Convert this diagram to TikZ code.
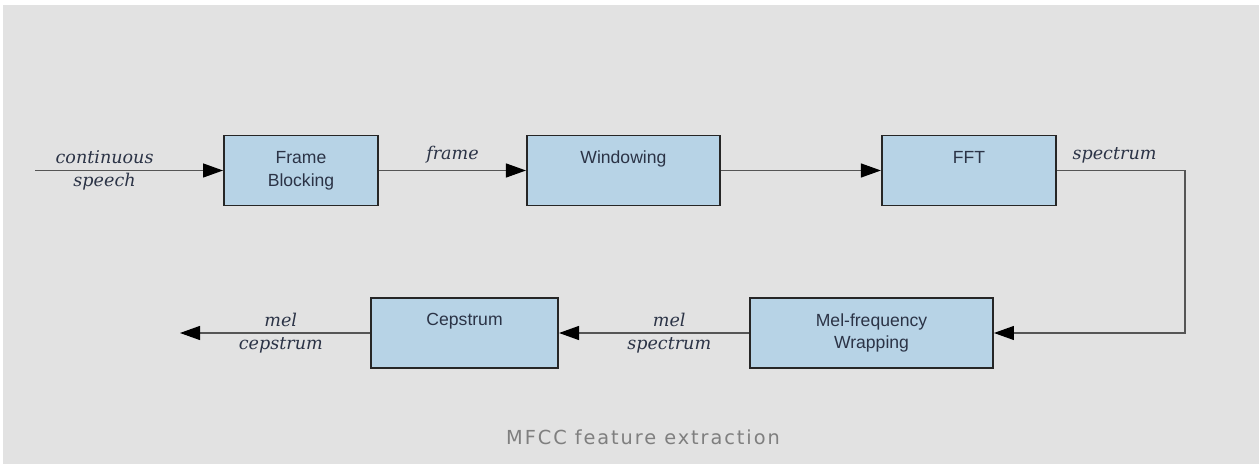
\documentclass[tikz,border=0pt]{standalone}
\usepackage{fontspec}
\setmainfont{Liberation Sans}
\newfontfamily\lblfont{DejaVu Serif}
\newfontfamily\capfont{DejaVu Sans}[LetterSpace=10]
\usetikzlibrary{positioning,arrows.meta}
\definecolor{bggray}{HTML}{E2E2E2}
\definecolor{boxblue}{HTML}{B7D3E6}
\definecolor{edgegray}{HTML}{555555}
\definecolor{inkdark}{HTML}{2B3346}
\definecolor{capgray}{HTML}{7F7F7F}

\begin{document}
\begin{tikzpicture}[
  blk/.style={fill=boxblue, draw=black!85, line width=1.1pt, minimum height=1.40cm,
              inner sep=2pt, font=\fontsize{10}{13}\selectfont, align=center, text=inkdark},
  lbl/.style={font=\lblfont\itshape\fontsize{10}{13}\selectfont, align=center, text=inkdark, inner sep=2pt},
  flow/.style={-{Triangle[length=0.40cm,width=0.28cm,color=black]}, line width=0.7pt, color=edgegray}
]

\useasboundingbox (0,0) rectangle (25.18,-9.28);
\fill[bggray] (0.06,-0.10) rectangle (25.18,-9.28);

% top row
\node[blk, minimum width=3.08cm] (fb) at (6.02,-3.41) {Frame\\Blocking};
\node[blk, minimum width=3.86cm, right=2.94cm of fb] (win) {Windowing\\[2pt]\mbox{}};
\node[blk, minimum width=3.48cm, right=3.20cm of win] (fft) {FFT\\[2pt]\mbox{}};

% bottom row
\node[blk, minimum width=4.86cm] (mel) at (17.43,-6.66) {Mel-frequency\\Wrapping};
\node[blk, minimum width=3.74cm, left=3.80cm of mel] (cep) {Cepstrum\\[2pt]\mbox{}};

\coordinate (in) at (0.70,-3.41);
\coordinate (turn) at (23.70,-3.41);
\coordinate (out) at (3.60,-6.66);

\draw[flow] (in) -- node[lbl, pos=0.37] {continuous\\speech} (fb);
\draw[flow] (fb) -- node[lbl, above=2pt] {frame} (win);
\draw[flow] (win) -- (fft);
\draw[flow] (fft.east) -- node[lbl, above=2pt, pos=0.45] {spectrum} (turn) |- (mel.east);
\draw[flow] (mel) -- node[lbl, pos=0.42] {mel\\spectrum} (cep);
\draw[flow] (cep) -- node[lbl, pos=0.47] {mel\\cepstrum} (out);

\node[font=\capfont\fontsize{11}{13}\selectfont, text=capgray] (cap) at (12.86,-8.74) {MFCC feature extraction};

\end{tikzpicture}
\end{document}
